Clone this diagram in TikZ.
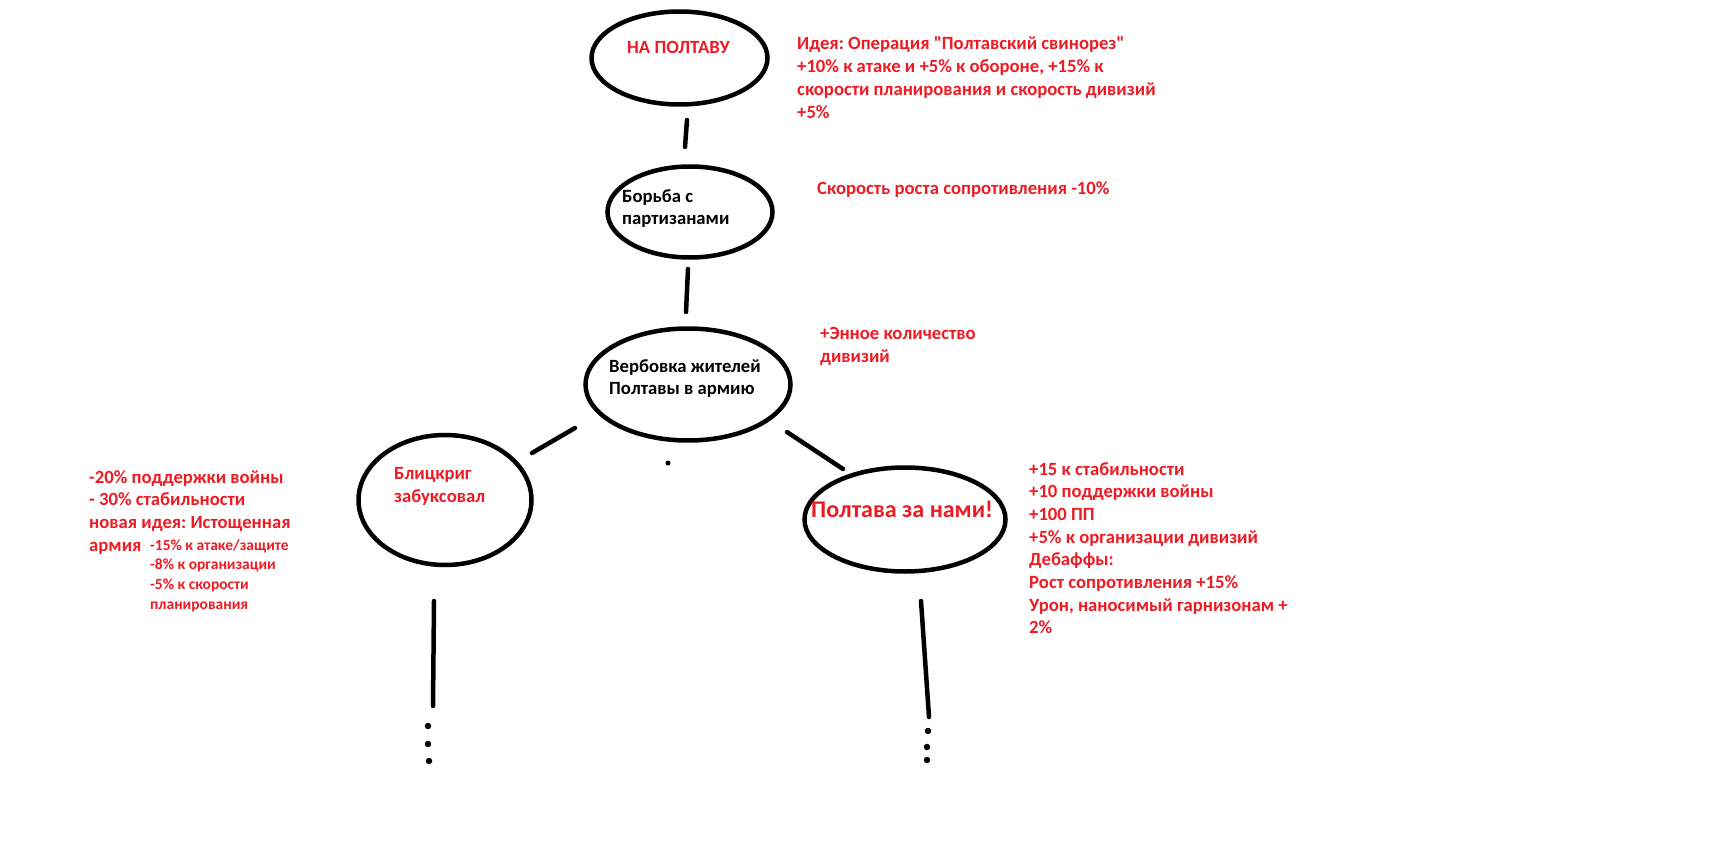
\documentclass[tikz,border=0pt]{standalone}
\usepackage{fontspec}
\setmainfont[Ligatures=TeXOff]{Carlito}
\frenchspacing
\usetikzlibrary{shapes.geometric}
\definecolor{paintred}{RGB}{237,28,36}
\begin{document}
\begin{tikzpicture}[x=1pt,y=-1pt,
  bubble/.style={draw=black,line width=4.5pt,ellipse,inner sep=0pt},
  stroke/.style={line width=4.5pt,line cap=round},
  blob/.style={circle,fill=black,inner sep=0pt,minimum size=6.5pt},
  txt/.style={font=\bfseries\fontsize{18.67}{22.7}\selectfont,align=left,anchor=north west,inner sep=0pt},
  small/.style={font=\bfseries\fontsize{15.5}{19.8}\selectfont,align=left,anchor=north west,inner sep=0pt,text=paintred},
  note/.style={txt,text=paintred},
  inner/.style={txt,text=black}]
\fill[white] (0,0) rectangle (1735,853);
\useasboundingbox (0,0) rectangle (1735,853);

% bubbles
\node[bubble,minimum width=176pt,minimum height=93pt] (e1) at (679.5,58) {};
\node[bubble,minimum width=165pt,minimum height=91pt] (e2) at (690,212) {};
\node[bubble,minimum width=205pt,minimum height=112pt] (e3) at (688,384.5) {};
\node[bubble,minimum width=173pt,minimum height=130pt] (e4) at (445,500) {};
\node[bubble,minimum width=201pt,minimum height=104pt] (e5) at (905,519.5) {};

% bubble captions
\node[note] (t1) at (627,41) {НА ПОЛТАВУ};
\node[inner] (t2) at (622,189) {Борьба с\\партизанами};
\node[inner] (t3) at (609,359) {Вербовка жителей\\Полтавы в армию};
\node[note] (t4) at (394,467) {Блицкриг\\забуксовал};
\node[txt,text=paintred,font=\bfseries\fontsize{24}{29}\selectfont] (t5) at (811,501) {Полтава за нами!};

% effect descriptions
\node[note] (n1) at (797,37) {Идея: Операция "Полтавский свинорез"\\+10\% к атаке и +5\% к обороне, +15\% к\\скорости планирования и скорость дивизий\\+5\%};
\node[note] (n2) at (817,181) {Скорость роста сопротивления -10\%};
\node[note] (n3) at (820,327) {+Энное количество\\дивизий};
\node[note] (n4) at (89,470) {-20\% поддержки войны\\- 30\% стабильности\\новая идея: Истощенная\\армия};
\node[small] (n4b) at (150,539) {-15\% к атаке/защите\\-8\% к организации\\-5\% к скорости\\планирования};
\node[note] (n5) at (1029,462) {+15 к стабильности\\+10 поддержки войны\\+100 ПП\\+5\% к организации дивизий\\Дебаффы:\\Рост сопротивления +15\%\\Урон, наносимый гарнизонам +\\2\%};

% connector end points
\coordinate (a12) at (687,120);
\coordinate (b12) at (685,147);
\coordinate (a23) at (688,269);
\coordinate (b23) at (686,312);
\coordinate (a34) at (575,428);
\coordinate (b34) at (532,453);
\coordinate (a35) at (787,432);
\coordinate (b35) at (843,469);
\coordinate (a4) at (434,601);
\coordinate (b4) at (433,706);
\coordinate (a5) at (921,601);
\coordinate (b5) at (929,717);

\draw[stroke] (a12) -- (b12);
\draw[stroke] (a23) -- (b23);
\draw[stroke] (a34) -- (b34);
\draw[stroke] (a35) -- (b35);
\draw[stroke] (a4) -- (b4);
\draw[stroke] (a5) -- (b5);

% continuation dots
\node[blob,minimum size=5pt] (d3) at (668,463) {};
\node[blob] (d41) at (428,726) {};
\node[blob] (d42) at (428,744) {};
\node[blob] (d43) at (429,761) {};
\node[blob] (d51) at (928,731) {};
\node[blob] (d52) at (927,747) {};
\node[blob] (d53) at (927,760) {};
\end{tikzpicture}
\end{document}
